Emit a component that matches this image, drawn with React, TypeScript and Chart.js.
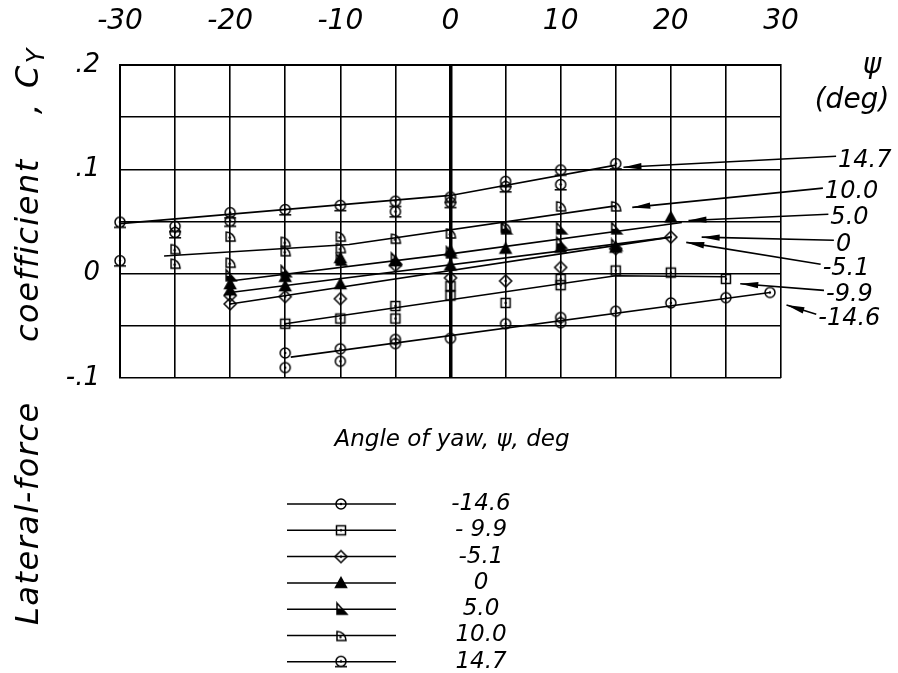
import React, { useEffect, useRef } from 'react';
import { Chart, registerables } from 'chart.js';

Chart.register(...registerables);

const FONT = "'DejaVu Sans', 'Liberation Sans', sans-serif";

// ---- series (psi, deg) ----
const seriesNames = ['-14.6', '-9.9', '-5.1', '0', '5.0', '10.0', '14.7'];
const legendText = ['-14.6', '- 9.9', '-5.1', '0', '5.0', '10.0', '14.7'];
const markerKinds = ['circle', 'square', 'diamond', 'triangle', 'flag', 'quarter', 'arch'];

// ---- axis ticks ----
const xTickValues = [-30, -20, -10, 0, 10, 20, 30];
const yTickValues = [0.2, 0.1, 0, -0.1];
const yTickText = ['.2', '.1', '0', '-.1'];

// ---- test points ----
const m146X = [-15, -15, -10, -10, -5, -5, 0, 5, 10, 10, 15, 20, 25, 29];
const m146Y = [-0.076, -0.09, -0.072, -0.084, -0.063, -0.067, -0.062, -0.048, -0.042, -0.047, -0.036, -0.028, -0.023, -0.018];

const m99X = [-15, -10, -5, -5, 0, 0, 5, 10, 10, 15, 20, 25];
const m99Y = [-0.048, -0.043, -0.031, -0.043, -0.021, -0.012, -0.028, -0.005, -0.011, 0.003, 0.001, -0.005];

const m51X = [-20, -20, -15, -10, -5, 0, 5, 10, 15, 20];
const m51Y = [-0.029, -0.021, -0.022, -0.024, 0.008, -0.004, -0.007, 0.006, 0.024, 0.035];

const p0X = [-20, -20, -15, -15, -10, -10, -5, 0, 0, 5, 10, 15, 20];
const p0Y = [-0.01, -0.016, -0.012, -0.003, 0.015, -0.01, 0.012, 0.022, 0.008, 0.024, 0.025, 0.025, 0.054];

const p5X = [-20, -15, -10, -5, 0, 5, 10, 10, 15, 15];
const p5Y = [-0.002, 0.002, 0.013, 0.014, 0.02, 0.043, 0.043, 0.029, 0.043, 0.027];

const p10X = [-25, -25, -20, -20, -15, -15, -10, -10, -5, 0, 5, 10, 15];
const p10Y = [0.024, 0.01, 0.036, 0.011, 0.031, 0.022, 0.036, 0.025, 0.034, 0.039, 0.045, 0.065, 0.065];

const p147X = [-30, -30, -25, -25, -20, -20, -15, -10, -5, -5, 0, 0, 5, 5, 10, 10, 15];
const p147Y = [0.049, 0.012, 0.045, 0.039, 0.058, 0.05, 0.061, 0.065, 0.069, 0.059, 0.073, 0.068, 0.088, 0.083, 0.099, 0.085, 0.105];

// ---- faired curves ----
const m146FairX = [-14.5, 29];
const m146FairY = [-0.08, -0.018];
const m99FairX = [-15, 15, 25];
const m99FairY = [-0.048, -0.002, -0.003];
const m51FairX = [-20, 20];
const m51FairY = [-0.029, 0.035];
const p0FairX = [-20, 20];
const p0FairY = [-0.018, 0.035];
const p5FairX = [-20, 0, 21];
const p5FairY = [-0.007, 0.019, 0.049];
const p10FairX = [-26, -9.2, 15];
const p10FairY = [0.017, 0.028, 0.065];
const p147FairX = [-30, 0, 15];
const p147FairY = [0.048, 0.075, 0.104];

// ---- label leaders (data units, series order) ----
const leaderTailX = [33.2, 33.9, 33.6, 34.8, 34.3, 33.8, 35.0];
const leaderTailY = [-0.039, -0.016, 0.009, 0.032, 0.057, 0.082, 0.1125];
const leaderTipX = [30.5, 26.3, 21.4, 22.8, 21.6, 16.5, 15.7];
const leaderTipY = [-0.03, -0.0096, 0.03, 0.035, 0.051, 0.0635, 0.102];

const pointsX = [m146X, m99X, m51X, p0X, p5X, p10X, p147X];
const pointsY = [m146Y, m99Y, m51Y, p0Y, p5Y, p10Y, p147Y];
const fairX = [m146FairX, m99FairX, m51FairX, p0FairX, p5FairX, p10FairX, p147FairX];
const fairY = [m146FairY, m99FairY, m51FairY, p0FairY, p5FairY, p10FairY, p147FairY];

// y-axis title pieces (text) and where each starts along the axis (page px)
const yTitleWords = ['Lateral-force', 'coefficient', ',', 'C'];
const yTitleStarts = [625, 342, 114, 88];

function makeMarker(kind: string): HTMLCanvasElement {
  const s = 16;
  const c = document.createElement('canvas');
  c.width = s;
  c.height = s;
  const g = c.getContext('2d')!;
  g.strokeStyle = '#000';
  g.fillStyle = '#000';
  g.lineWidth = 1.5;
  const m = s / 2;
  const dot = (dx = 0, dy = 0) => {
    g.beginPath();
    g.arc(m + dx, m + dy, 1.2, 0, Math.PI * 2);
    g.fill();
  };
  switch (kind) {
    case 'circle':
      g.beginPath();
      g.arc(m, m, 5, 0, Math.PI * 2);
      g.stroke();
      dot();
      break;
    case 'square':
      g.strokeRect(m - 4.5, m - 4.5, 9, 9);
      dot();
      break;
    case 'diamond':
      g.beginPath();
      g.moveTo(m, m - 6);
      g.lineTo(m + 6, m);
      g.lineTo(m, m + 6);
      g.lineTo(m - 6, m);
      g.closePath();
      g.stroke();
      dot();
      break;
    case 'triangle':
      g.beginPath();
      g.moveTo(m, m - 5.5);
      g.lineTo(m + 5.5, m + 4.5);
      g.lineTo(m - 5.5, m + 4.5);
      g.closePath();
      g.fill();
      g.stroke();
      break;
    case 'flag':
      g.beginPath();
      g.moveTo(m - 4, m - 6);
      g.lineTo(m - 4, m + 5);
      g.lineTo(m + 6, m + 5);
      g.closePath();
      g.stroke();
      g.beginPath();
      g.moveTo(m - 4, m);
      g.lineTo(m + 1.5, m);
      g.lineTo(m + 6, m + 5);
      g.lineTo(m - 4, m + 5);
      g.closePath();
      g.fill();
      break;
    case 'quarter':
      g.beginPath();
      g.moveTo(m - 4, m - 4);
      g.lineTo(m - 4, m + 5);
      g.lineTo(m + 5, m + 5);
      g.arc(m - 4, m + 5, 9, 0, -Math.PI / 2, true);
      g.closePath();
      g.stroke();
      dot(-0.5, 1.5);
      break;
    case 'arch':
    default:
      g.beginPath();
      g.arc(m, m - 0.5, 5, 0, Math.PI * 2);
      g.stroke();
      g.beginPath();
      g.moveTo(m - 6, m + 4.8);
      g.lineTo(m + 6, m + 4.8);
      g.stroke();
      dot(0, -0.5);
      break;
  }
  return c;
}

function arrowHead(ctx: CanvasRenderingContext2D, fx: number, fy: number, tx: number, ty: number) {
  const a = Math.atan2(ty - fy, tx - fx);
  const len = 18;
  const hw = 3.2;
  ctx.beginPath();
  ctx.moveTo(tx, ty);
  ctx.lineTo(tx - len * Math.cos(a) + hw * Math.sin(a), ty - len * Math.sin(a) - hw * Math.cos(a));
  ctx.lineTo(tx - len * Math.cos(a) - hw * Math.sin(a), ty - len * Math.sin(a) + hw * Math.cos(a));
  ctx.closePath();
  ctx.fill();
}

export default function App() {
  const ref = useRef<HTMLCanvasElement | null>(null);

  useEffect(() => {
    if (!ref.current) return;
    const markers = markerKinds.map(makeMarker);

    const datasets: any[] = [];
    seriesNames.forEach((name, i) => {
      datasets.push({
        label: name,
        data: pointsX[i].map((x, j) => ({ x, y: pointsY[i][j] })),
        pointStyle: markers[i],
        pointRadius: 6,
        showLine: false,
        order: 0,
        clip: false,
      });
    });
    seriesNames.forEach((name, i) => {
      datasets.push({
        label: name + ' faired',
        data: fairX[i].map((x, j) => ({ x, y: fairY[i][j] })),
        showLine: true,
        pointRadius: 0,
        borderColor: '#000',
        borderWidth: 1.6,
        tension: 0,
        order: 1,
        clip: false,
      });
    });

    const decor = {
      id: 'decor',
      afterDraw(chart: any) {
        const { ctx } = chart;
        const xs = chart.scales.x;
        const ys = chart.scales.y;
        ctx.save();
        ctx.fillStyle = '#000';
        ctx.strokeStyle = '#000';

        // leaders + right-hand labels
        for (let i = 0; i < seriesNames.length; i++) {
          const tx = xs.getPixelForValue(leaderTailX[i]);
          const ty = ys.getPixelForValue(leaderTailY[i]);
          const px = xs.getPixelForValue(leaderTipX[i]);
          const py = ys.getPixelForValue(leaderTipY[i]);
          ctx.lineWidth = 1.6;
          ctx.beginPath();
          ctx.moveTo(tx, ty);
          ctx.lineTo(px, py);
          ctx.stroke();
          arrowHead(ctx, tx, ty, px, py);
          ctx.font = `italic 24px ${FONT}`;
          ctx.textAlign = 'left';
          ctx.textBaseline = 'middle';
          ctx.fillText(seriesNames[i], tx + 2, ty + 4);
        }
        ctx.font = `italic 28px ${FONT}`;
        ctx.textAlign = 'center';
        ctx.textBaseline = 'middle';
        ctx.fillText('\u03C8', 872, 66);
        ctx.fillText('(deg)', 852, 101);

        // x title
        ctx.font = `italic 23px ${FONT}`;
        ctx.fillText('Angle of yaw, \u03C8, deg', 452, 440);

        // y title (rotated, reading bottom to top)
        ctx.save();
        ctx.translate(27, 0);
        ctx.rotate(-Math.PI / 2);
        ctx.textAlign = 'left';
        ctx.textBaseline = 'alphabetic';
        ctx.font = `italic 32px ${FONT}`;
        try {
          (ctx as any).letterSpacing = '1.5px';
        } catch (e) {
          /* ignore */
        }
        let endC = 0;
        for (let k = 0; k < yTitleWords.length; k++) {
          const sx = -yTitleStarts[k];
          ctx.fillText(yTitleWords[k], sx, 11);
          if (k === yTitleWords.length - 1) endC = sx + ctx.measureText(yTitleWords[k]).width;
        }
        ctx.font = `italic 24px ${FONT}`;
        ctx.fillText('Y', endC + 1, 17);
        try {
          (ctx as any).letterSpacing = '0px';
        } catch (e) {
          /* ignore */
        }
        ctx.restore();

        // legend
        const rowY0 = 504;
        const rowDy = 26.3;
        for (let i = 0; i < seriesNames.length; i++) {
          const ry = rowY0 + i * rowDy;
          ctx.lineWidth = 1.5;
          ctx.beginPath();
          ctx.moveTo(287, ry);
          ctx.lineTo(396, ry);
          ctx.stroke();
          ctx.drawImage(markers[i], 341 - 8, ry - 8, 16, 16);
          ctx.font = `italic 23px ${FONT}`;
          ctx.textAlign = 'center';
          ctx.textBaseline = 'middle';
          ctx.fillText(legendText[i], 481, ry);
        }
        ctx.restore();
      },
    };

    const gridWidth = (c: any) => (c.tick && c.tick.value === 0 ? 3.5 : 1.6);

    const chart = new Chart(ref.current, {
      type: 'scatter',
      data: { datasets },
      options: {
        animation: false,
        responsive: false,
        layout: { padding: { left: 0, top: 0, right: 117, bottom: 295 } },
        plugins: { legend: { display: false }, tooltip: { enabled: false } },
        scales: {
          x: {
            type: 'linear',
            position: 'top',
            min: -30,
            max: 30,
            afterFit: (s: any) => {
              s.height = 65;
            },
            ticks: {
              stepSize: 5,
              autoSkip: false,
              maxRotation: 0,
              padding: 26,
              color: '#000',
              font: { family: FONT, size: 28, style: 'italic' },
              callback: (v: any) => (xTickValues.includes(Number(v)) ? String(v) : ''),
            },
            grid: { color: '#000', lineWidth: gridWidth, drawTicks: false },
            border: { display: true, color: '#000', width: 2 },
          },
          y: {
            type: 'linear',
            min: -0.1,
            max: 0.2,
            afterFit: (s: any) => {
              s.width = 120;
            },
            ticks: {
              stepSize: 0.05,
              autoSkip: false,
              padding: 20,
              color: '#000',
              font: { family: FONT, size: 26, style: 'italic' },
              callback: (v: any) => {
                const idx = yTickValues.findIndex((t) => Math.abs(t - Number(v)) < 1e-6);
                return idx >= 0 ? yTickText[idx] : '';
              },
            },
            grid: { color: '#000', lineWidth: gridWidth, drawTicks: false },
            border: { display: true, color: '#000', width: 2 },
          },
        },
      },
      plugins: [decor],
    } as any);

    return () => chart.destroy();
  }, []);

  return (
    <div style={{ position: 'absolute', left: 0, top: 0, width: 898, height: 673, background: '#fff' }}>
      <canvas ref={ref} width={898} height={673} style={{ display: 'block', width: 898, height: 673 }} />
    </div>
  );
}
